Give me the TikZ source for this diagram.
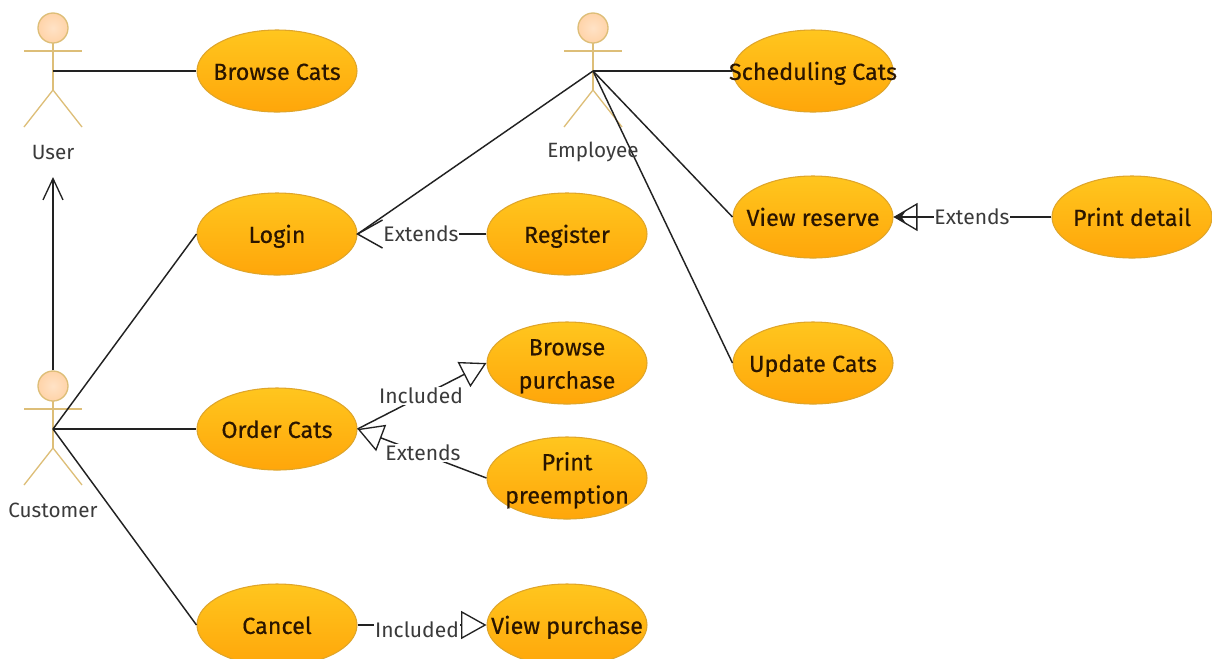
\documentclass[tikz,border=0pt]{standalone}
\usepackage{fontspec}
\setmainfont{Fira Sans}
\newfontfamily\ucfont[FakeBold=0.4]{Fira Sans}
\usetikzlibrary{shapes.geometric,arrows.meta,calc}
\definecolor{uctop}{HTML}{FFC61E}
\definecolor{ucbot}{HTML}{FFA60A}
\definecolor{ucline}{HTML}{DFA52A}
\definecolor{stick}{HTML}{DDBE78}
\definecolor{headc}{HTML}{FFE2C6}
\definecolor{ink}{HTML}{2A1500}
\definecolor{lab}{HTML}{3A3A3A}
\definecolor{conn}{HTML}{222222}
\newcommand{\uctext}[1]{\makebox[0pt]{\smash{\raisebox{-6pt}{\begin{tabular}[c]{@{}c@{}}#1\end{tabular}}}}}
\tikzset{
  x=0.75pt,y=-0.75pt,
  usecase/.style={ellipse,draw=ucline,line width=0.8pt,top color=uctop,bottom color=ucbot,
    minimum width=120pt,minimum height=61.5pt,inner sep=0pt,text=ink,
    font=\ucfont\fontsize{17.5}{25}\selectfont},
  actorname/.style={text=lab,inner sep=1pt,font=\fontsize{15.5}{18}\selectfont},
  edgelabel/.style={fill=white,text=lab,inner sep=0.5pt,font=\fontsize{15.8}{18}\selectfont},
  link/.style={draw=conn,line width=1.1pt},
  hollow/.style={link,-{Triangle[open,length=19pt,width=21pt,line width=1pt,fill=white]}},
  hollownf/.style={link,-{Triangle[open,length=18pt,width=21pt,line width=1pt]}},
  solidtip/.style={link,-{Stealth[length=9pt,width=9pt]}},
  stickline/.style={draw=stick,line width=1pt},
  stickman/.pic={
    \draw[stickline] (0,-28) -- (0,19);
    \draw[stickline] (-29,-20) -- (29,-20);
    \draw[stickline] (-29,56) -- (0,19) -- (29,56);
    \node[circle,draw=stick,line width=1pt,inner color=headc,outer color=headc!85!orange,minimum size=22.5pt,inner sep=0pt] (-head) at (0,-43) {};
    \coordinate (-hub) at (0,0);
  }
}
\begin{document}
\begin{tikzpicture}
\useasboundingbox (0,0) rectangle (1212,658);
\pic (user) at (53,71) {stickman};
\pic (customer) at (53,429) {stickman};
\pic (employee) at (593,71) {stickman};
\node[actorname] (userlabel) at (53,152) {User};
\node[actorname] (customerlabel) at (53,510) {Customer};
\coordinate (usertip) at (53,177);

\node[usecase] (browse) at (277,71) {\uctext{Browse Cats}};
\node[usecase] (login) at (277,234) {\uctext{Login}};
\node[usecase] (order) at (277,429) {\uctext{Order Cats}};
\node[usecase] (cancel) at (277,625) {\uctext{Cancel}};
\node[usecase] (register) at (567,234) {\uctext{Register}};
\node[usecase] (bpurchase) at (567,363) {\uctext{Browse\\purchase}};
\node[usecase] (preempt) at (567,478) {\uctext{Print\\preemption}};
\node[usecase] (vpurchase) at (567,625) {\uctext{View purchase}};
\node[usecase] (sched) at (813,71) {\uctext{Scheduling Cats}};
\node[usecase] (reserve) at (813,217) {\uctext{View reserve}};
\node[usecase] (update) at (813,363) {\uctext{Update Cats}};
\node[usecase] (pdetail) at (1132,217) {\uctext{Print detail}};

\draw[link] (user-hub) -- (browse.west);
\draw[link,-{Straight Barb[length=16pt,width=15pt,line width=1pt]}] (customer-head.north) -- (usertip);
\draw[link] (customer-hub) -- (login.west);
\draw[link] (customer-hub) -- (order.west);
\draw[link] (customer-hub) -- (cancel.west);
\draw[link] (employee-hub) -- (login.east);
\draw[link] (employee-hub) -- (sched.west);
\draw[link] (employee-hub) -- (reserve.west);
\draw[link] (employee-hub) -- (update.west);

\node[actorname] (employeelabel) at (593,152) {Employee};

\node[edgelabel] (lext) at (421,234) {Extends};
\draw[link] (register.west) -- (lext.east);
\draw[link] ($(login.east)+(25,-14)$) -- (login.east) -- ($(login.east)+(25,14)$);
\draw[hollow] (order.east) -- (bpurchase.west);
\node[edgelabel] (linc) at (421,396) {Included};
\draw[hollow] (preempt.west) -- (order.east);
\node[edgelabel] (oext) at (423,453) {Extends};
\draw[hollow] (cancel.east) -- (vpurchase.west);
\node[edgelabel] (cinc) at (417,630) {Included};
\draw[hollownf] (pdetail.west) -- (reserve.east);
\draw[solidtip] (pdetail.west) -- (reserve.east);
\node[edgelabel] (rext) at (972,217) {Extends};
\end{tikzpicture}
\end{document}
